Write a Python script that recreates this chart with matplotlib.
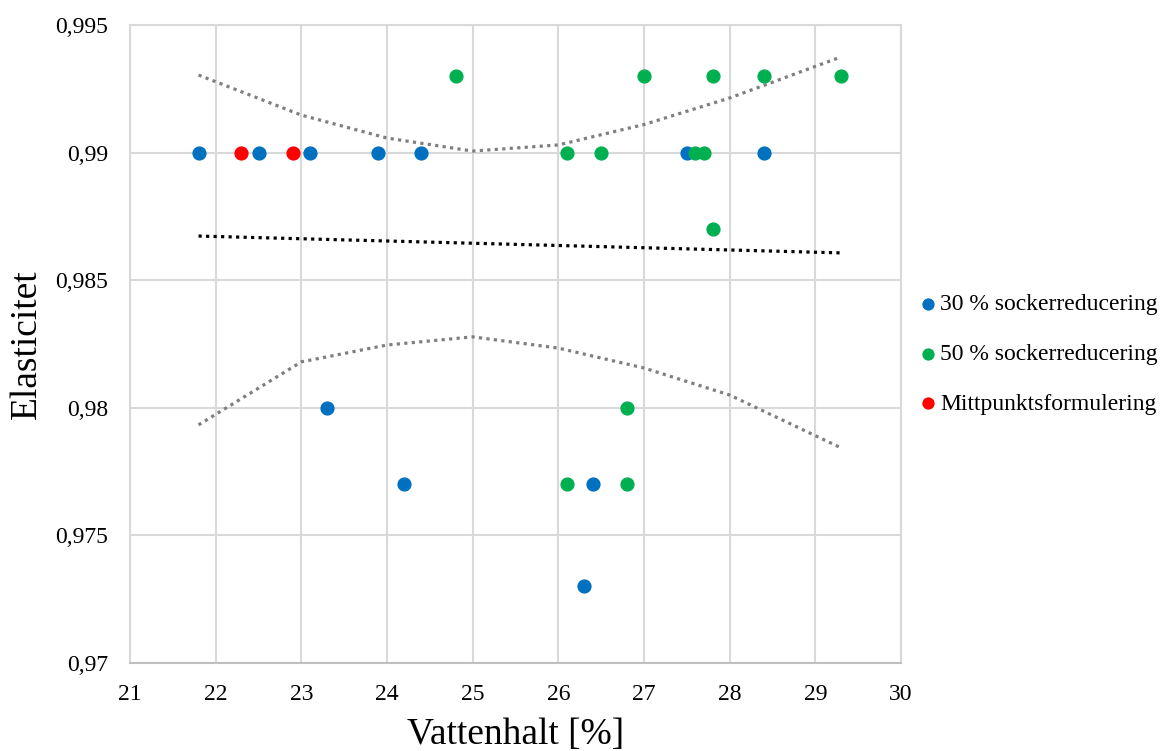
import matplotlib
matplotlib.use("Agg")
import matplotlib.pyplot as plt
from matplotlib.ticker import FuncFormatter

# measured points (Vattenhalt %, Elasticitet)
x30 = [21.8, 22.5, 23.1, 23.9, 24.4, 27.5, 28.4, 23.3, 24.2, 26.4, 26.3]
y30 = [0.990, 0.990, 0.990, 0.990, 0.990, 0.990, 0.990, 0.980, 0.977, 0.977, 0.973]

x50 = [24.8, 27.0, 27.8, 28.4, 29.3, 26.1, 26.5, 27.6, 27.7, 27.8, 26.8, 26.1, 26.8]
y50 = [0.993, 0.993, 0.993, 0.993, 0.993, 0.990, 0.990, 0.990, 0.990, 0.987, 0.980, 0.977, 0.977]

xmid = [22.3, 22.9]
ymid = [0.990, 0.990]

# trend line and bands
trend_x = [21.8, 29.3]
trend_y = [0.98673, 0.98607]

band_x = [21.8, 23.0, 24.0, 25.0, 26.0, 27.0, 28.0, 29.3]
upper_y = [0.99304, 0.99147, 0.99057, 0.99006, 0.99030, 0.99110, 0.99214, 0.99375]
lower_y = [0.97933, 0.98180, 0.98246, 0.98278, 0.98234, 0.98156, 0.98050, 0.97843]

xticks = list(range(21, 31))
yticks = [0.97, 0.975, 0.98, 0.985, 0.99, 0.995]

plt.rcParams["font.family"] = ["Liberation Serif", "DejaVu Serif"]

fig = plt.figure(figsize=(11.63, 7.51), dpi=100)
ax = fig.add_axes([130 / 1163, 1 - 663 / 751, 771 / 1163, 638 / 751])

dots = (0, (1, 1.35))
ax.plot(band_x, upper_y, linestyle=dots, color="#7F7F7F", lw=2.3, zorder=2)
ax.plot(band_x, lower_y, linestyle=dots, color="#7F7F7F", lw=2.3, zorder=2)
ax.plot(trend_x, trend_y, linestyle=dots, color="black", lw=2.3, zorder=2)

ax.scatter(x30, y30, s=85, color="#0070C0", label="30 % sockerreducering", zorder=3)
ax.scatter(x50, y50, s=85, color="#00B050", label="50 % sockerreducering", zorder=3)
ax.scatter(xmid, ymid, s=85, color="#FF0000", label="Mittpunktsformulering", zorder=3)

ax.set_xlim(21, 30)
ax.set_ylim(0.97, 0.995)
ax.set_xticks(xticks)
ax.set_yticks(yticks)
ax.yaxis.set_major_formatter(FuncFormatter(lambda v, p: f"{v:g}".replace(".", ",")))
ax.tick_params(length=0, labelsize=17)
ax.tick_params(axis="y", pad=16)
ax.tick_params(axis="x", pad=15)
ax.grid(True, color="#D9D9D9", lw=1.5)
ax.set_axisbelow(True)
for s in ["top", "right", "left"]:
    ax.spines[s].set_color("#D9D9D9")
    ax.spines[s].set_linewidth(1.5)
ax.spines["bottom"].set_color("#BFBFBF")
ax.spines["bottom"].set_linewidth(1.5)

ax.set_xlabel("Vattenhalt [%]", fontsize=27, labelpad=9)
ax.set_ylabel("Elasticitet", fontsize=27, labelpad=8)

fig.legend(loc="center left", bbox_to_anchor=(920 / 1163, 1 - 354 / 751), frameon=False,
           fontsize=17, handlelength=0.7, handletextpad=0.15, labelspacing=1.2,
           markerscale=0.85, borderpad=0, borderaxespad=0)

fig.savefig("out.png", dpi=100)
